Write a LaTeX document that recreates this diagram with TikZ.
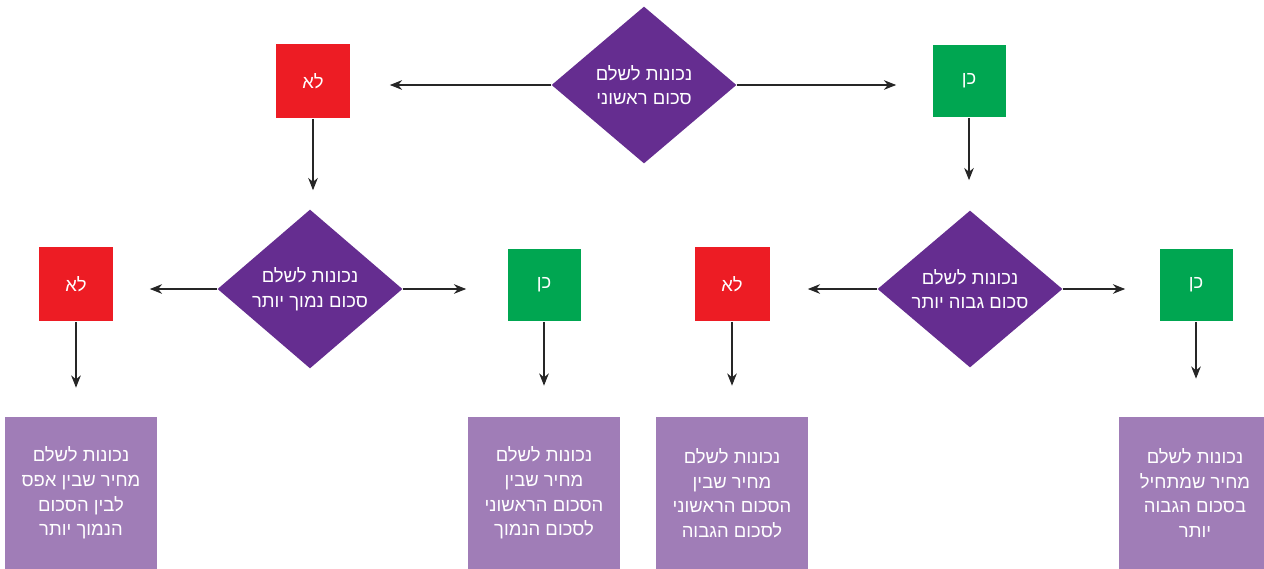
\documentclass[tikz,border=0pt]{standalone}
\usepackage{fontspec}
\setmainfont[Script=Hebrew]{Liberation Sans}
\usetikzlibrary{shapes.geometric,arrows.meta}
\TeXXeTstate=1
\definecolor{askpurple}{HTML}{652D90}
\definecolor{nored}{HTML}{ED1C24}
\definecolor{yesgreen}{HTML}{00A651}
\definecolor{resultlilac}{HTML}{A07DB7}
\newcommand{\heb}[1]{\beginR #1\endR}

\begin{document}
\begin{tikzpicture}[x=0.02cm, y=-0.02cm,
    hebtext/.style={text=white, font=\fontsize{10.5}{14}\selectfont},
    ask/.style={hebtext, diamond, fill=askpurple, minimum width=3.7cm, minimum height=3.14cm, inner sep=0pt, align=center},
    nobox/.style={hebtext, fill=nored, minimum size=1.5cm, inner sep=0pt},
    yesbox/.style={hebtext, fill=yesgreen, minimum size=1.46cm, inner sep=0pt},
    result/.style={hebtext, fill=resultlilac, minimum width=3.04cm, minimum height=3.04cm, inner sep=0pt, align=center},
    flow/.style={draw=black!85, line width=0.6pt, -{Stealth[length=7pt, width=5.5pt]}}]
    \useasboundingbox (0,0) rectangle (1264,568);

    \node[ask] (dFirst) at (644,85) {\heb{נכונות לשלם}\\\heb{סכום ראשוני}};
    \node[nobox] (noA) at (313,81) {\heb{לא}};
    \node[yesbox] (yesA) at (969,81) {\heb{כן}};

    \node[ask] (dLow) at (310,289) {\heb{נכונות לשלם}\\\heb{סכום נמוך יותר}};
    \node[ask] (dHigh) at (970,289) {\heb{נכונות לשלם}\\\heb{סכום גבוה יותר}};

    \node[nobox] (noB) at (76,284) {\heb{לא}};
    \node[yesbox] (yesB) at (544,285) {\heb{כן}};
    \node[nobox] (noC) at (732,284) {\heb{לא}};
    \node[yesbox] (yesC) at (1196,285) {\heb{כן}};

    \node[result] (resZero) at (81,493) {\heb{נכונות לשלם}\\\heb{מחיר שבין אפס}\\\heb{לבין הסכום}\\\heb{הנמוך יותר}};
    \node[result] (resLow) at (544,493) {\heb{נכונות לשלם}\\\heb{מחיר שבין}\\\heb{הסכום הראשוני}\\\heb{לסכום הנמוך}};
    \node[result] (resHigh) at (732,493) {\heb{נכונות לשלם}\\\heb{מחיר שבין}\\\heb{הסכום הראשוני}\\\heb{לסכום הגבוה}};
    \node[result] (resTop) at (1195,493) {\heb{נכונות לשלם}\\\heb{מחיר שמתחיל}\\\heb{בסכום הגבוה}\\\heb{יותר}};

    \draw[flow, shorten >=0.78cm] (dFirst.west) -- (dFirst.west -| noA.east);
    \draw[flow, shorten >=0.72cm] (dFirst.east) -- (dFirst.east -| yesA.west);
    \draw[flow, shorten >=0.38cm] (noA.south) -- (noA.south |- dLow.north);
    \draw[flow, shorten >=0.6cm] (yesA.south) -- (yesA.south |- dHigh.north);

    \draw[flow, shorten >=0.72cm] (dLow.west) -- (dLow.west -| noB.east);
    \draw[flow, shorten >=0.82cm] (dLow.east) -- (dLow.east -| yesB.west);
    \draw[flow, shorten >=0.76cm] (dHigh.west) -- (dHigh.west -| noC.east);
    \draw[flow, shorten >=0.68cm] (dHigh.east) -- (dHigh.east -| yesC.west);

    \draw[flow, shorten >=0.58cm] (noB.south) -- (noB.south |- resZero.north);
    \draw[flow, shorten >=0.62cm] (yesB.south) -- (yesB.south |- resLow.north);
    \draw[flow, shorten >=0.62cm] (noC.south) -- (noC.south |- resHigh.north);
    \draw[flow, shorten >=0.76cm] (yesC.south) -- (yesC.south |- resTop.north);
\end{tikzpicture}
\end{document}
